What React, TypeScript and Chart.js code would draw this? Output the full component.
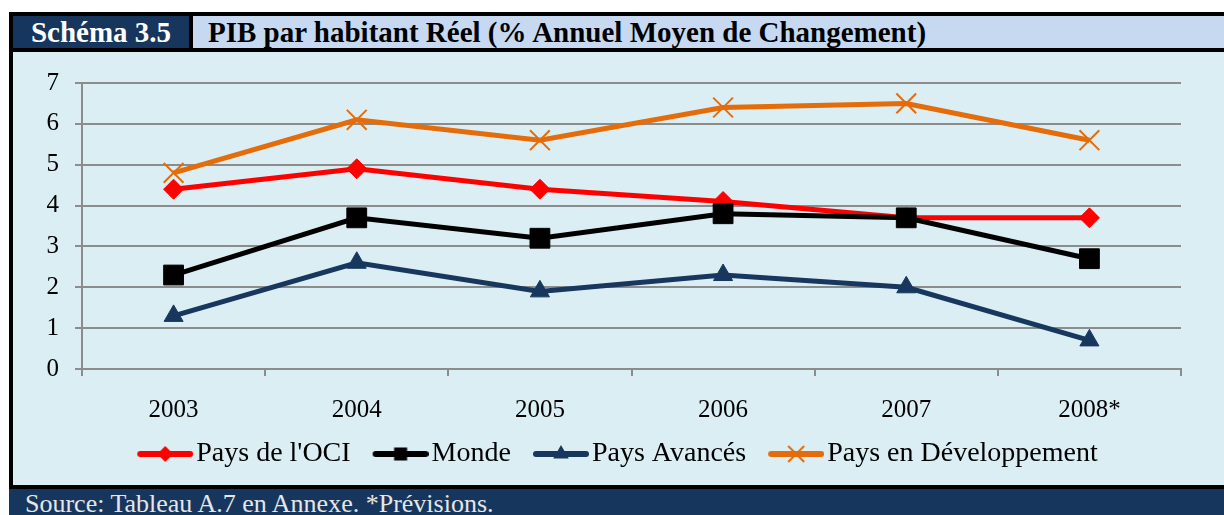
import React, { useEffect, useRef } from "react";
import { Chart, registerables } from "chart.js";

Chart.register(...registerables);

const years = ["2003", "2004", "2005", "2006", "2007", "2008*"];
const paysOCI = [4.4, 4.9, 4.4, 4.1, 3.7, 3.7];
const monde = [2.3, 3.7, 3.2, 3.8, 3.7, 2.7];
const paysAvances = [1.3, 2.6, 1.9, 2.3, 2.0, 0.7];
const paysDeveloppement = [4.8, 6.1, 5.6, 6.4, 6.5, 5.6];
const seriesNames = ["Pays de l'OCI", "Monde", "Pays Avancés", "Pays en Développement"];
const yMin = 0;
const yMax = 7;

const titleLabel = "Schéma 3.5";
const titleText = "PIB par habitant Réel (% Annuel Moyen de Changement)";
const sourceText = "Source: Tableau A.7 en Annexe. *Prévisions.";

const RED = "#ff0000";
const BLACK = "#000000";
const NAVY = "#17375e";
const ORANGE = "#e46c0a";
const GRID = "#8c8c8c";
const FONT = "'Liberation Serif', 'DejaVu Serif', serif";

// Legend symbol: canvas 81 wide, centred on the legend box; the line+marker occupies x 25..81
function makeSymbol(color: string, kind: string): HTMLCanvasElement {
  const c = document.createElement("canvas");
  c.width = 81;
  c.height = 24;
  const ctx = c.getContext("2d")!;
  const cy = 12;
  const x0 = 25;
  const cx = x0 + 28;
  ctx.strokeStyle = color;
  ctx.lineWidth = 6;
  ctx.lineCap = "round";
  ctx.beginPath();
  ctx.moveTo(x0 + 3, cy);
  ctx.lineTo(x0 + 53, cy);
  ctx.stroke();
  ctx.fillStyle = color;
  if (kind === "diamond") {
    const r = 8;
    ctx.beginPath();
    ctx.moveTo(cx, cy - r);
    ctx.lineTo(cx + r, cy);
    ctx.lineTo(cx, cy + r);
    ctx.lineTo(cx - r, cy);
    ctx.closePath();
    ctx.fill();
  } else if (kind === "square") {
    const s = 13;
    ctx.fillRect(cx - s / 2, cy - s / 2, s, s);
  } else if (kind === "triangle") {
    const r = 9;
    ctx.beginPath();
    ctx.moveTo(cx, cy - r);
    ctx.lineTo(cx + r * 0.866, cy + r * 0.5);
    ctx.lineTo(cx - r * 0.866, cy + r * 0.5);
    ctx.closePath();
    ctx.fill();
  } else if (kind === "cross") {
    const r = 8;
    ctx.lineWidth = 2;
    ctx.lineCap = "butt";
    ctx.beginPath();
    ctx.moveTo(cx - r, cy - r);
    ctx.lineTo(cx + r, cy + r);
    ctx.moveTo(cx + r, cy - r);
    ctx.lineTo(cx - r, cy + r);
    ctx.stroke();
  }
  return c;
}

export default function App() {
  const canvasRef = useRef<HTMLCanvasElement | null>(null);

  useEffect(() => {
    const canvas = canvasRef.current;
    if (!canvas) return;
    const symbols = [
      makeSymbol(RED, "diamond"),
      makeSymbol(BLACK, "square"),
      makeSymbol(NAVY, "triangle"),
      makeSymbol(ORANGE, "cross"),
    ];
    const colors = [RED, BLACK, NAVY, ORANGE];
    const chart = new Chart(canvas, {
      type: "line",
      data: {
        labels: years,
        datasets: [
          {
            label: seriesNames[0],
            data: paysOCI,
            borderColor: RED,
            backgroundColor: RED,
            borderWidth: 5,
            pointStyle: "rectRot",
            pointRadius: 10,
            pointBorderWidth: 1,
            pointBackgroundColor: RED,
            pointBorderColor: RED,
            order: 4,
          },
          {
            label: seriesNames[1],
            data: monde,
            borderColor: BLACK,
            backgroundColor: BLACK,
            borderWidth: 5,
            pointStyle: "rect",
            pointRadius: 14,
            pointBorderWidth: 1,
            pointBackgroundColor: BLACK,
            pointBorderColor: BLACK,
            order: 3,
          },
          {
            label: seriesNames[2],
            data: paysAvances,
            borderColor: NAVY,
            backgroundColor: NAVY,
            borderWidth: 5,
            pointStyle: "triangle",
            pointRadius: 11,
            pointBorderWidth: 1,
            pointBackgroundColor: NAVY,
            pointBorderColor: NAVY,
            order: 2,
          },
          {
            label: seriesNames[3],
            data: paysDeveloppement,
            borderColor: ORANGE,
            backgroundColor: ORANGE,
            borderWidth: 5,
            pointStyle: "crossRot",
            pointRadius: 14,
            pointBorderWidth: 2,
            pointBackgroundColor: ORANGE,
            pointBorderColor: ORANGE,
            order: 1,
          },
        ],
      },
      options: {
        responsive: false,
        animation: false,
        layout: { padding: { top: 31, right: 16, left: 0, bottom: 7 } },
        plugins: {
          tooltip: { enabled: false },
          legend: {
            position: "bottom",
            labels: {
              usePointStyle: true,
              pointStyleWidth: 59,
              padding: 8,
              color: "#000",
              font: { family: FONT, size: 28 },
              generateLabels: () =>
                seriesNames.map((name, i) => ({
                  text: name,
                  pointStyle: symbols[i],
                  fillStyle: colors[i],
                  strokeStyle: colors[i],
                  lineWidth: 0,
                  hidden: false,
                  datasetIndex: i,
                  fontColor: "#000",
                })),
            },
          },
        },
        scales: {
          x: {
            offset: true,
            grid: {
              offset: true,
              drawOnChartArea: false,
              drawTicks: true,
              tickLength: 7,
              color: GRID,
              lineWidth: 2,
            },
            border: { color: GRID, width: 2 },
            ticks: {
              color: "#000",
              padding: 19,
              font: { family: FONT, size: 25 },
            },
            afterFit: (s: any) => {
              s.height = 63;
            },
          },
          y: {
            min: yMin,
            max: yMax,
            ticks: {
              stepSize: 1,
              color: "#000",
              padding: 16,
              font: { family: FONT, size: 25 },
            },
            grid: {
              color: GRID,
              lineWidth: 2,
              tickLength: 7,
            },
            border: { color: GRID, width: 2 },
            afterFit: (s: any) => {
              s.width = 69;
            },
          },
          // empty right-hand margin
          yRight: {
            position: "right",
            min: yMin,
            max: yMax,
            ticks: { display: false },
            grid: { display: false },
            border: { display: false },
            afterFit: (s: any) => {
              s.width = 27;
            },
          },
        },
      },
    });
    return () => chart.destroy();
  }, []);

  return (
    <div style={{ position: "absolute", left: 0, top: 0, width: 1224, height: 515, background: "#fff", overflow: "hidden" }}>
      <div style={{ position: "absolute", left: 9, top: 12, width: 1215, height: 477, background: "#000" }} />
      <div
        style={{
          position: "absolute", left: 13, top: 16, width: 176, height: 32, background: "#17365d",
          color: "#fff", fontFamily: FONT, fontWeight: "bold", fontSize: 29, lineHeight: "33px",
          textAlign: "center", whiteSpace: "nowrap",
        }}
      >
        {titleLabel}
      </div>
      <div
        style={{
          position: "absolute", left: 193, top: 16, width: 1031, height: 32, background: "#c6d9f1",
          color: "#000", fontFamily: FONT, fontWeight: "bold", fontSize: 29, lineHeight: "33px",
          paddingLeft: 15, boxSizing: "border-box", whiteSpace: "nowrap", overflow: "hidden",
        }}
      >
        {titleText}
      </div>
      <div style={{ position: "absolute", left: 13, top: 52, width: 1211, height: 433, background: "#daeef3" }}>
        <canvas ref={canvasRef} width={1211} height={433} style={{ display: "block" }} />
      </div>
      <div
        style={{
          position: "absolute", left: 9, top: 489, width: 1215, height: 26, background: "#17365d",
          color: "#e6e6e6", fontFamily: FONT, fontSize: 26, lineHeight: "30px", paddingLeft: 16,
          boxSizing: "border-box", whiteSpace: "nowrap", overflow: "hidden",
        }}
      >
        {sourceText}
      </div>
    </div>
  );
}
